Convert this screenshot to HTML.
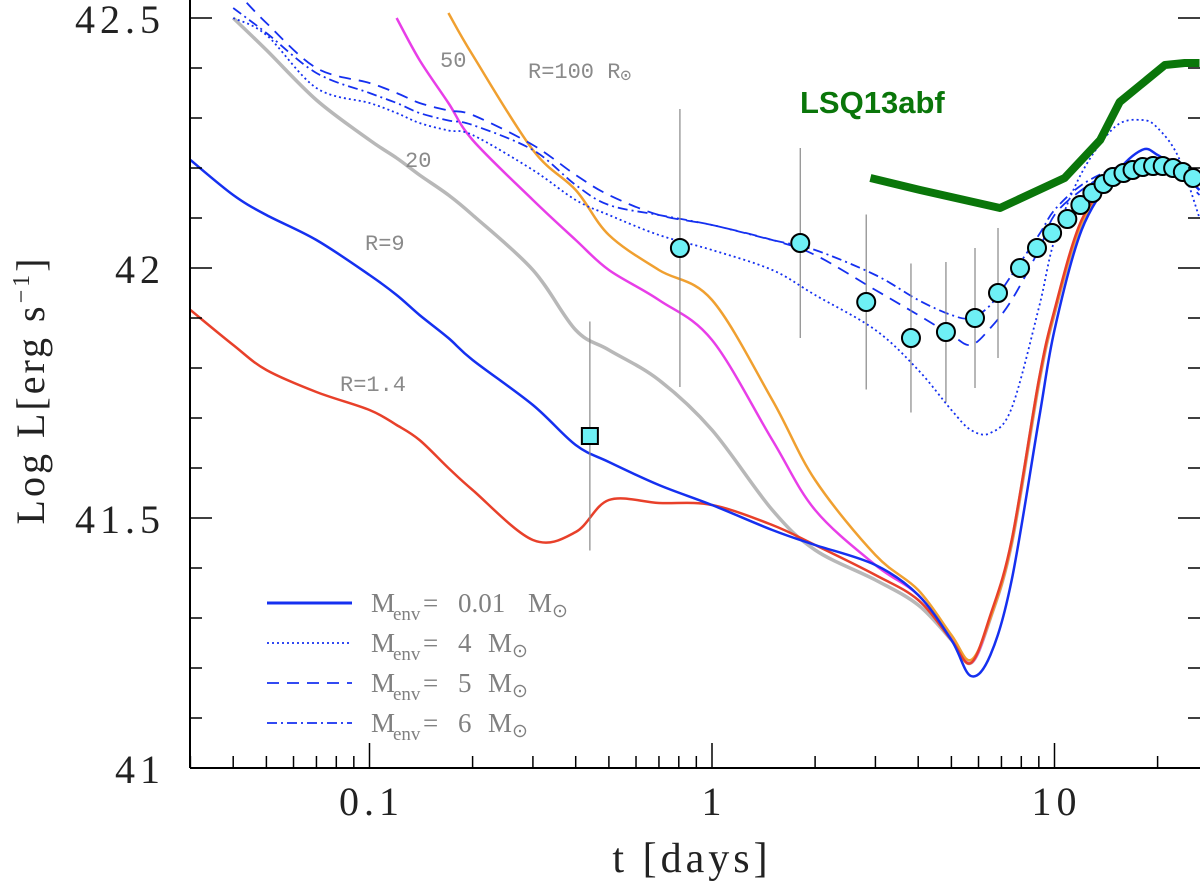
<!DOCTYPE html>
<html><head><meta charset="utf-8"><style>
html,body{margin:0;padding:0;background:#fff;}
svg{display:block;}
.tk{font-family:"Liberation Serif",serif;font-size:40px;fill:#222;letter-spacing:5px;}
.lab{font-family:"Liberation Mono",monospace;font-size:22px;fill:#8a8a8a;}
.leg{font-family:"Liberation Serif",serif;font-size:27px;fill:#808080;}
.sub{font-size:19px;}
</style></head><body>
<svg id="chart" width="1200" height="885" viewBox="0 0 1200 885">
<defs><clipPath id="plotclip"><rect x="190" y="0" width="1010" height="768"/></clipPath></defs>
<g id="curves" clip-path="url(#plotclip)"></g>
<g id="axes"></g>
<g id="labels">
<text class="lab" x="440" y="67">50</text>
<text class="lab" x="528" y="78">R=100 R<tspan font-size="18" dy="3">⊙</tspan></text>
<text class="lab" x="405" y="167">20</text>
<text class="lab" x="365" y="250">R=9</text>
<text class="lab" x="340" y="391">R=1.4</text>
<text x="800" y="113" font-family="Liberation Sans,sans-serif" font-weight="bold" font-size="31" fill="#0a760a">LSQ13abf</text>
</g>
<g id="legend">
<line x1="267" y1="603" x2="352" y2="603" stroke="#1530f0" stroke-width="3"/>
<line x1="267" y1="643" x2="352" y2="643" stroke="#1530f0" stroke-width="1.8" stroke-dasharray="2,3"/>
<line x1="267" y1="683" x2="352" y2="683" stroke="#1530f0" stroke-width="1.8" stroke-dasharray="12,8"/>
<line x1="267" y1="723" x2="352" y2="723" stroke="#1530f0" stroke-width="1.8" stroke-dasharray="10,4,2,4"/>
<text class="leg" y="612"><tspan x="371">M</tspan><tspan class="sub" x="393" dy="8">env</tspan><tspan x="423" dy="-8">=</tspan><tspan x="458">0.01</tspan><tspan x="528">M</tspan><tspan class="sub" x="552" dy="5">⊙</tspan></text>
<text class="leg" y="652"><tspan x="371">M</tspan><tspan class="sub" x="393" dy="8">env</tspan><tspan x="423" dy="-8">=</tspan><tspan x="458">4</tspan><tspan x="488">M</tspan><tspan class="sub" x="512" dy="5">⊙</tspan></text>
<text class="leg" y="692"><tspan x="371">M</tspan><tspan class="sub" x="393" dy="8">env</tspan><tspan x="423" dy="-8">=</tspan><tspan x="458">5</tspan><tspan x="488">M</tspan><tspan class="sub" x="512" dy="5">⊙</tspan></text>
<text class="leg" y="732"><tspan x="371">M</tspan><tspan class="sub" x="393" dy="8">env</tspan><tspan x="423" dy="-8">=</tspan><tspan x="458">6</tspan><tspan x="488">M</tspan><tspan class="sub" x="512" dy="5">⊙</tspan></text>
</g>
<text x="692" y="872" text-anchor="middle" font-family="Liberation Serif,serif" font-size="42" letter-spacing="4" fill="#222">t [days]</text>
<text transform="translate(44,390) rotate(-90)" text-anchor="middle" font-family="Liberation Serif,serif" font-size="40" letter-spacing="3" fill="#222">Log L[erg s<tspan font-size="24" dy="-15">−1</tspan><tspan dy="15">]</tspan></text>
</svg>
<script>
const tGrid=[0.03,0.04,0.05,0.07,0.1,0.12,0.14,0.17,0.2,0.3,0.4,0.5,0.7,1,1.5,2,3,4,5,5.7,6.5,7.5,9,10,12,15,18,20,23,26.5];
const lumR9=[42.216,42.146,42.106,42.056,41.986,41.946,41.906,41.86,41.816,41.726,41.646,41.612,41.566,41.526,41.476,41.446,41.406,41.346,41.256,41.184,41.226,41.376,41.696,41.876,42.076,42.186,42.236,42.226,42.196,42.156];
const lumR1p4=[41.916,41.846,41.796,41.752,41.716,41.686,41.656,41.6,41.556,41.456,41.472,41.536,41.53,41.526,41.486,41.446,41.386,41.336,41.256,41.21,41.306,41.456,41.776,41.916,42.096,42.18,42.21,42.216,42.212,42.166];
const lumR20=[null,42.5,42.436,42.336,42.256,42.22,42.186,42.146,42.106,41.996,41.876,41.836,41.776,41.676,41.516,41.436,41.376,41.326,41.256,41.21,41.3,41.45,41.77,41.91,42.09,42.178,42.21,42.214,42.21,42.166];
const lumR50=[null,null,null,null,null,42.5,42.416,42.33,42.256,42.136,42.056,41.996,41.936,41.856,41.656,41.516,41.406,41.346,41.26,41.21,41.3,41.45,41.77,41.91,42.09,42.178,42.21,42.214,42.21,42.166];
const lumR100=[null,null,null,null,null,null,null,42.51,42.426,42.236,42.156,42.066,41.996,41.936,41.736,41.576,41.426,41.356,41.266,41.216,41.3,41.45,41.77,41.91,42.09,42.178,42.21,42.214,42.21,42.166];
const lumM4=[null,42.5,42.466,42.36,42.33,42.31,42.29,42.275,42.266,42.196,42.136,42.106,42.066,42.036,41.996,41.946,41.876,41.796,41.716,41.676,41.67,41.72,41.92,42.056,42.19,42.282,42.296,42.28,42.222,42.1];
const lumM5=[null,42.56,42.49,42.4,42.37,42.35,42.33,42.315,42.306,42.246,42.186,42.146,42.106,42.086,42.056,42.026,41.956,41.906,41.866,41.846,41.88,41.936,42.036,42.106,42.156,42.196,42.21,42.21,42.186,42.146];
const lumM6=[null,42.52,42.47,42.39,42.35,42.33,42.31,42.295,42.286,42.236,42.166,42.126,42.106,42.086,42.056,42.036,41.986,41.936,41.906,41.9,41.926,41.986,42.066,42.116,42.166,42.2,42.216,42.21,42.19,42.156];
const lsqT=[2.9,4.05,6.93,10.7,13.6,15.5,21,24,26.5];
const lsqL=[42.18,42.156,42.12,42.18,42.256,42.332,42.406,42.41,42.41];
const obsT=[0.806,1.81,2.82,3.81,4.82,5.86,6.84,7.93,8.89,9.84,10.9,11.9,12.9,13.9,14.8,15.9,16.9,18.1,19.4,20.7,22.2,23.7,25.4];
const obsL=[42.04,42.05,41.932,41.86,41.872,41.9,41.95,42.0,42.04,42.07,42.098,42.126,42.15,42.168,42.182,42.19,42.196,42.202,42.204,42.204,42.2,42.192,42.18];
const obsErr=[0.278,0.19,0.175,0.149,0.14,0.14,0.13,0,0,0,0,0,0,0,0,0,0,0,0,0,0,0,0];
const sqT=[0.44];const sqL=[41.664];const sqErr=[0.229];
const yTicks=[41,41.5,42,42.5];const yTickLabels=["41","41.5","42","42.5"];
const xTicks=[0.1,1,10];const xTickLabels=["0.1","1","10"];

const NS="http://www.w3.org/2000/svg";
function X(t){return 712+342.5*Math.log10(t);}
function Y(l){return 268-(l-42)*500;}
function mk(tag,attrs,parent){const e=document.createElementNS(NS,tag);for(const k in attrs)e.setAttribute(k,attrs[k]);parent.appendChild(e);return e;}
const cg=document.getElementById('curves');const ag=document.getElementById('axes');
function smoothSeg(pts){if(pts.length<2)return "";let d="M"+pts[0][0].toFixed(1)+","+pts[0][1].toFixed(1);
for(let i=0;i<pts.length-1;i++){const p0=pts[Math.max(0,i-1)],p1=pts[i],p2=pts[i+1],p3=pts[Math.min(pts.length-1,i+2)];
const k=1/6;const c1=[p1[0]+(p2[0]-p0[0])*k,p1[1]+(p2[1]-p0[1])*k];const c2=[p2[0]-(p3[0]-p1[0])*k,p2[1]-(p3[1]-p1[1])*k];
d+="C"+c1[0].toFixed(1)+","+c1[1].toFixed(1)+" "+c2[0].toFixed(1)+","+c2[1].toFixed(1)+" "+p2[0].toFixed(1)+","+p2[1].toFixed(1);}return d;}
function pathOf(ts,ls,smooth){let d="",seg=[];const flush=()=>{if(smooth)d+=smoothSeg(seg);else seg.forEach((p,j)=>{d+=(j?"L":"M")+p[0].toFixed(1)+","+p[1].toFixed(1);});seg=[];};
for(let i=0;i<ts.length;i++){if(ls[i]==null){flush();continue;}seg.push([X(ts[i]),Y(ls[i])]);}flush();return d;}
function curve(ts,ls,color,w,dash,name,smooth){const p=mk('path',{d:pathOf(ts,ls,smooth),fill:'none',stroke:color,'stroke-width':w,'stroke-linejoin':'round'},cg);if(dash)p.setAttribute('stroke-dasharray',dash);

}
curve(tGrid,lumR20,'#b8b8b8',3.5,null,'curve-r20',true);
curve(tGrid,lumR50,'#e83ee8',2.5,null,'curve-r50',true);
curve(tGrid,lumR100,'#f0a030',2.5,null,'curve-r100',true);
curve(tGrid,lumR1p4,'#e8402a',2.5,null,'curve-r1.4',true);
curve(tGrid,lumR9,'#1530f0',2.5,null,'curve-r9',true);
curve(tGrid,lumM4,'#1530f0',1.8,'2,3','curve-menv4',true);
curve(tGrid,lumM5,'#1530f0',1.8,'12,8','curve-menv5',true);
curve(tGrid,lumM6,'#1530f0',1.8,'10,4,2,4','curve-menv6',true);
curve(lsqT,lsqL,'#0a760a',8,null,'lsq13abf-line',false);
for(let i=0;i<obsT.length;i++){if(obsErr[i]>0){const l=mk('line',{x1:X(obsT[i]),x2:X(obsT[i]),y1:Y(obsL[i]+obsErr[i]),y2:Y(obsL[i]-obsErr[i]),stroke:'#888','stroke-width':1.2},cg);

}}
for(let i=0;i<sqT.length;i++){const l=mk('line',{x1:X(sqT[i]),x2:X(sqT[i]),y1:Y(sqL[i]+sqErr[i]),y2:Y(sqL[i]-sqErr[i]),stroke:'#888','stroke-width':1.2},cg);


const r=mk('rect',{x:X(sqT[i])-8,y:Y(sqL[i])-8,width:16,height:16,fill:'#6ef0f5',stroke:'#000','stroke-width':2},cg);

}
for(let i=0;i<obsT.length;i++){const c=mk('circle',{cx:X(obsT[i]),cy:Y(obsL[i]),r:9,fill:'#6ef0f5',stroke:'#000','stroke-width':2},cg);

}
const ax=mk('line',{x1:190,y1:0,x2:190,y2:768,stroke:'#000','stroke-width':2},ag);


const bx=mk('line',{x1:190,y1:768,x2:1200,y2:768,stroke:'#000','stroke-width':2},ag);


for(let v=41;v<=42.501;v+=0.1){const y=Y(v);const maj=Math.abs(v*2-Math.round(v*2))<1e-6;
mk('line',{x1:190,x2:190+(maj?22:12),y1:y,y2:y,stroke:'#000','stroke-width':1.5},ag);
mk('line',{x1:1200,x2:1200-(maj?22:12),y1:y,y2:y,stroke:'#000','stroke-width':1.5},ag);}
for(let i=0;i<yTicks.length;i++){const t=mk('text',{x:165,y:Y(yTicks[i])+15,'text-anchor':'end',class:'tk'},ag);t.textContent=yTickLabels[i];

}
for(let d=0.01;d<=10;d*=10){for(let m=1;m<10;m++){const t=d*m;const x=X(t);if(x<190||x>1200)continue;
mk('line',{x1:x,x2:x,y1:768,y2:768-(m==1?25:12),stroke:'#000','stroke-width':1.5},ag);}}
for(let i=0;i<xTicks.length;i++){const t=mk('text',{x:X(xTicks[i])+2,y:815,'text-anchor':'middle',class:'tk'},ag);t.textContent=xTickLabels[i];

}
</script>
</body></html>
